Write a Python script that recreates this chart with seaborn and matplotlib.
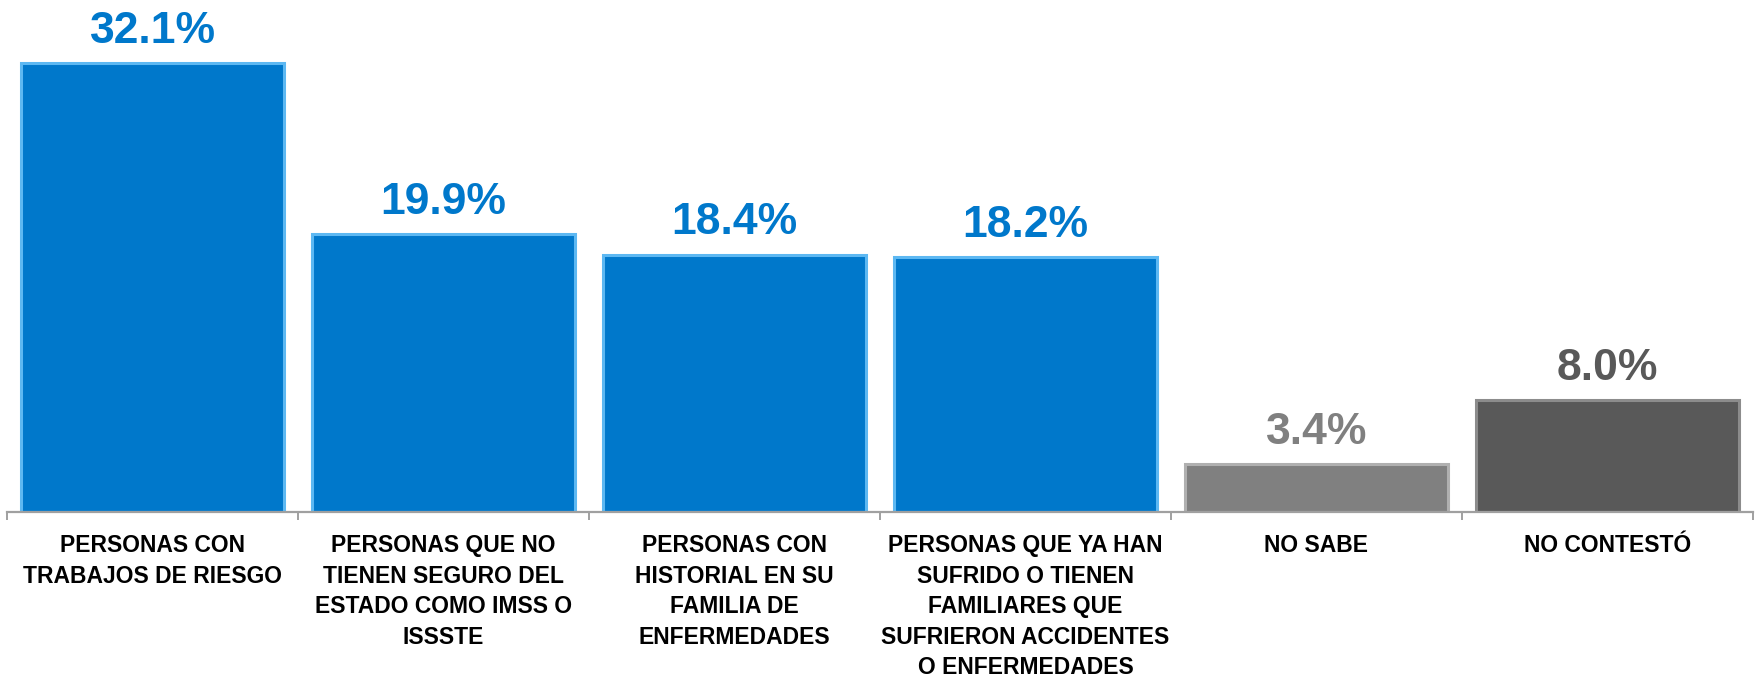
import matplotlib
matplotlib.use("Agg")
import matplotlib.pyplot as plt
import seaborn as sns
import pandas as pd

categories = [
    "PERSONAS CON\nTRABAJOS DE RIESGO",
    "PERSONAS QUE NO\nTIENEN SEGURO DEL\nESTADO COMO IMSS O\nISSSTE",
    "PERSONAS CON\nHISTORIAL EN SU\nFAMILIA DE\nENFERMEDADES",
    "PERSONAS QUE YA HAN\nSUFRIDO O TIENEN\nFAMILIARES QUE\nSUFRIERON ACCIDENTES\nO ENFERMEDADES",
    "NO SABE",
    "NO CONTESTÓ",
]
values = [32.1, 19.9, 18.4, 18.2, 3.4, 8.0]
value_labels = ["32.1%", "19.9%", "18.4%", "18.2%", "3.4%", "8.0%"]
bar_colors = ["#0078CB", "#0078CB", "#0078CB", "#0078CB", "#808080", "#595959"]
edge_colors = ["#5DB8F2", "#5DB8F2", "#5DB8F2", "#5DB8F2", "#B0B0B0", "#8C8C8C"]
label_colors = ["#0078CB", "#0078CB", "#0078CB", "#0078CB", "#808080", "#595959"]

sns.set_theme(style="white")
plt.rcParams["font.family"] = ["Liberation Sans", "DejaVu Sans"]

df = pd.DataFrame({"cat": categories, "val": values})

fig = plt.figure(figsize=(17.56, 6.82), dpi=100)
fig.patch.set_facecolor("white")

ax = fig.add_axes([7 / 1756, (682 - 512) / 682, 1746 / 1756, 512 / 682])
ax.set_facecolor("none")

sns.barplot(data=df, x="cat", y="val", hue="cat", palette=bar_colors, legend=False,
            width=0.907, ax=ax, saturation=1)

for patch, ec in zip(ax.patches, edge_colors):
    patch.set_edgecolor(ec)
    patch.set_linewidth(2.2)

for i, (v, lab, c) in enumerate(zip(values, value_labels, label_colors)):
    ax.annotate(lab, xy=(i, v), xytext=(0, 14.5), textcoords="offset points",
                ha="center", va="baseline", fontsize=32, fontweight="bold",
                color=c)

ax.set_xlim(-0.5, 5.5)
ax.set_ylim(0, 512 / (449 / 32.1))
ax.set_xlabel("")
ax.set_ylabel("")
ax.set_yticks([])

for s in ["top", "left", "right"]:
    ax.spines[s].set_visible(False)
ax.spines["bottom"].set_color("#A0A0A0")
ax.spines["bottom"].set_linewidth(1.6)

ax.set_xticks(range(len(categories)))
ax.set_xticklabels(categories, fontsize=16.5, fontweight="bold", color="black",
                   linespacing=1.42, va="top")
ax.tick_params(axis="x", which="major", length=0, pad=16)
ax.set_xticks([i - 0.5 for i in range(len(categories) + 1)], minor=True)
ax.tick_params(axis="x", which="minor", length=6, width=1.4, color="#A0A0A0", bottom=True)

fig.savefig("out.png", dpi=100, facecolor="white")
